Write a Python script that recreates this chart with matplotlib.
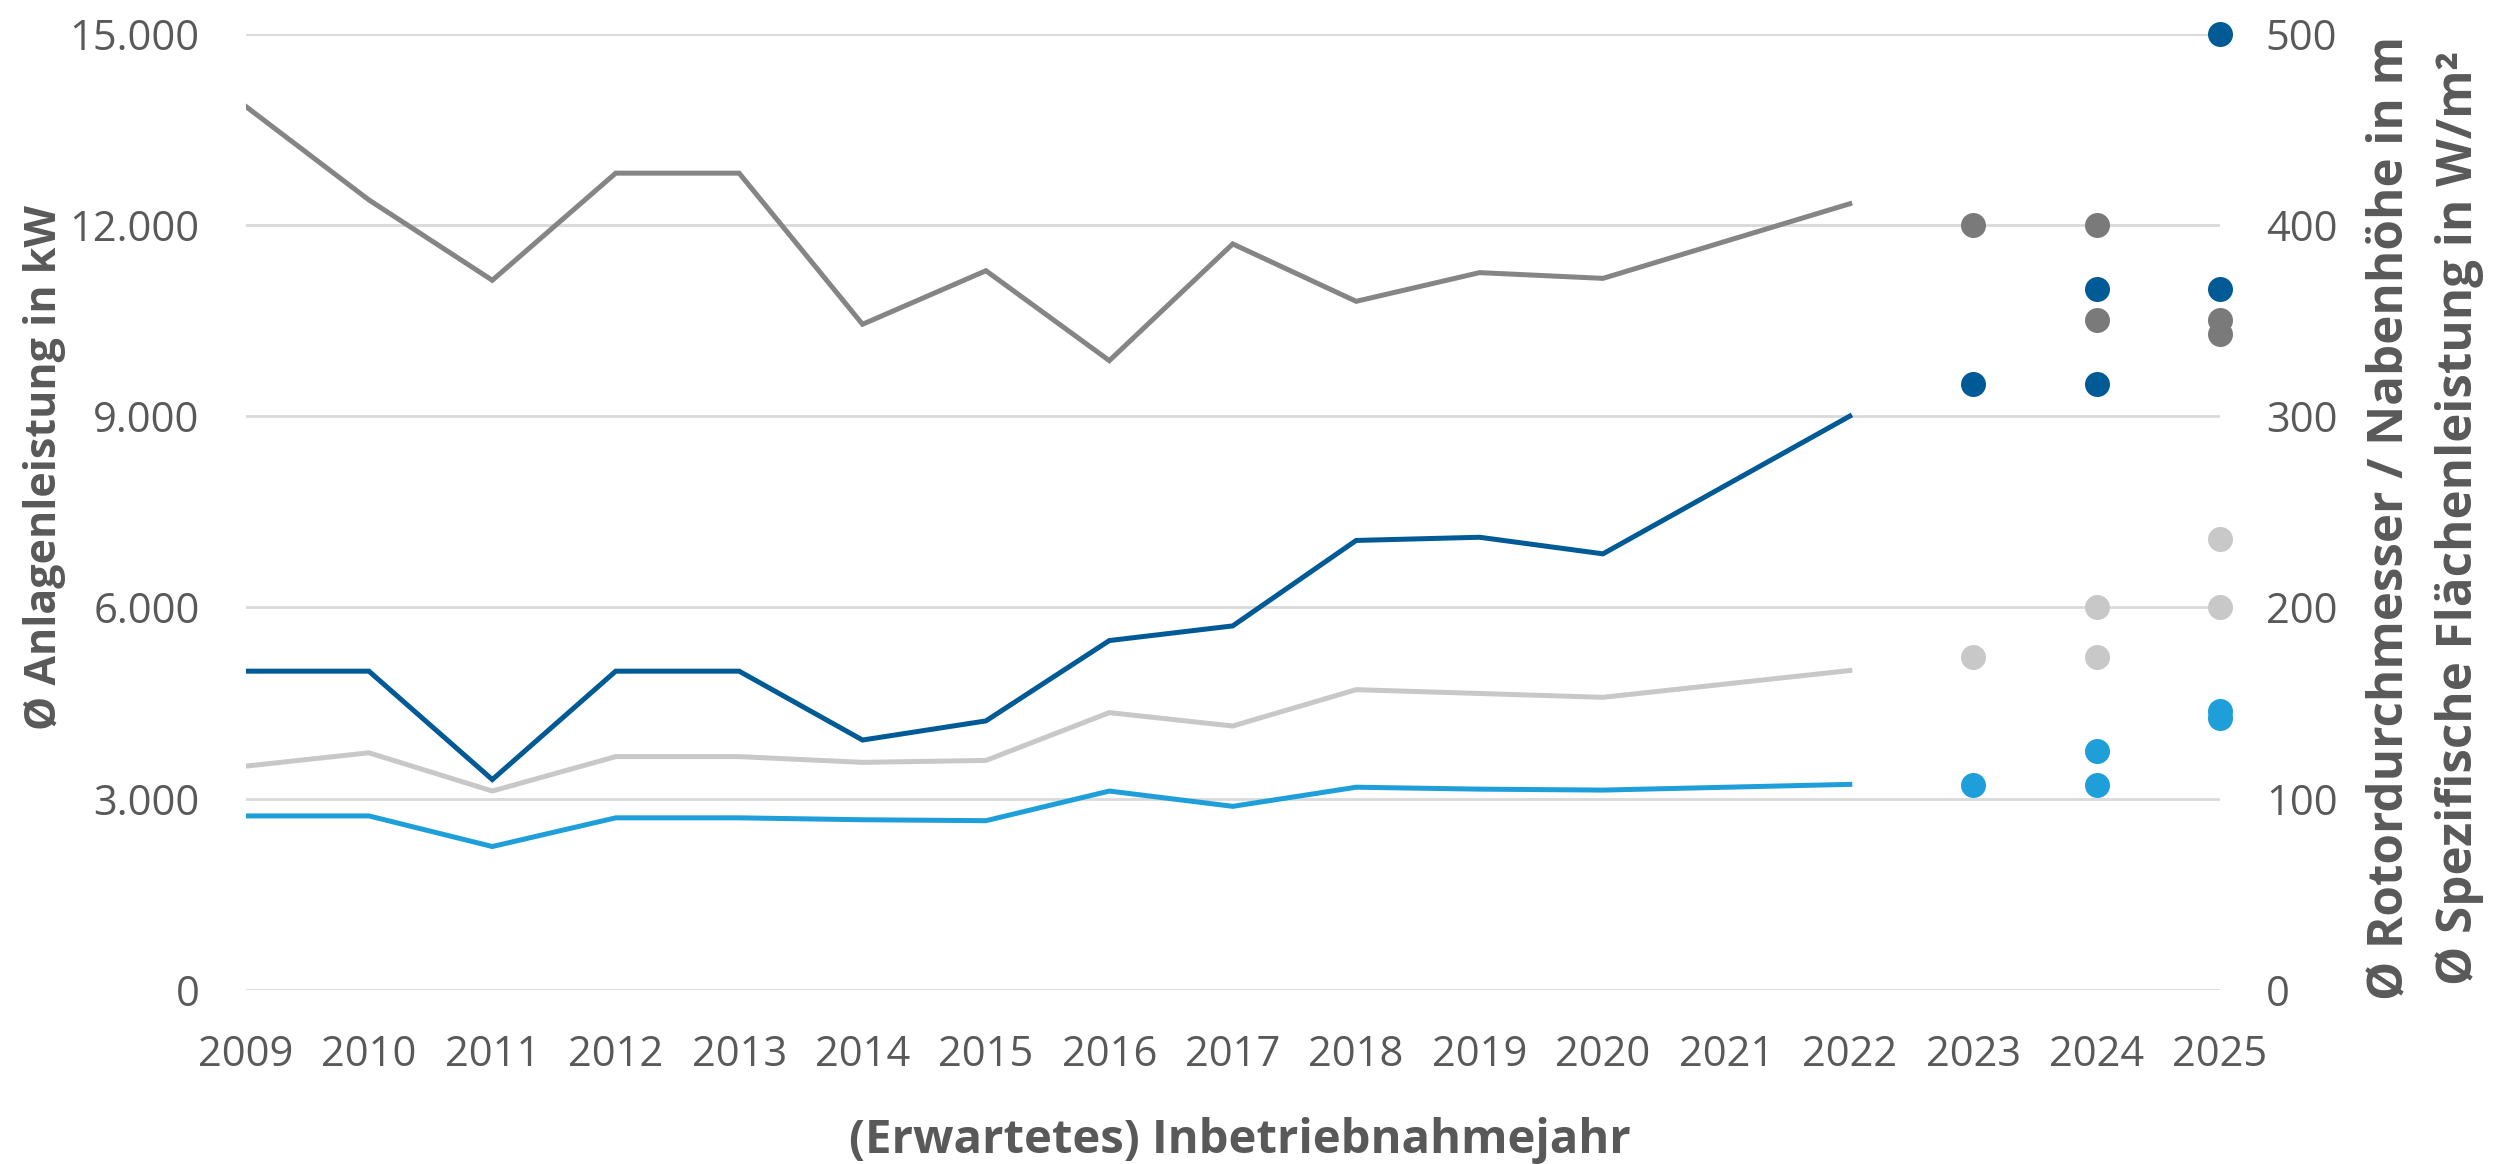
#!/usr/bin/env python3
"""
plot.py — average offshore turbine size by commissioning year (two y axes).
"""
import matplotlib
matplotlib.use("Agg")
import matplotlib.pyplot as plt
from matplotlib.ticker import FuncFormatter

# yearly averages (2021 has no value, the lines just bridge it)
years = [2009, 2010, 2011, 2012, 2013, 2014, 2015, 2016, 2017, 2018, 2019, 2020, 2022]
power_kw = [5000, 5000, 3300, 5000, 5000, 3920, 4220, 5480, 5710, 7050, 7100, 6840, 9000]
specific_wm2 = [462, 413, 371, 427, 427, 348, 376, 329, 390, 360, 375, 372, 411]
rotor_m = [117, 124, 104, 122, 122, 119, 120, 145, 138, 157, 155, 153, 167]
hub_m = [91, 91, 75, 90, 90, 89, 88.5, 104, 96, 106, 105, 104.5, 107.5]

# expected values for upcoming years (single projects, shown as dots)
dot_years = [2023, 2024, 2024, 2025, 2025]
dot_power_kw = [9500, 9500, 11000, 11000, 15000]
dot_specific_wm2 = [400, 400, 350, 350, 343]
dot_rotor_m = [174, 174, 200, 200, 236]
dot_hub_m = [107, 107, 125, 142, 146]

x_ticks = list(range(2009, 2026))
left_ticks = [0, 3000, 6000, 9000, 12000, 15000]
right_ticks = [0, 100, 200, 300, 400, 500]

DARK_BLUE = "#005a96"
GREY = "#858585"
GREY_DOT = "#7a7a7a"
LIGHT_GREY = "#c8c8c8"
LIGHT_BLUE = "#1e9fda"
TEXT = "#595959"
GRID = "#d9d9d9"

plt.rcParams["font.family"] = ["Open Sans", "DejaVu Sans"]

W, H = 2514, 1164
fig = plt.figure(figsize=(W / 100, H / 100), dpi=100)
l, r, t, b = 245.5, 2220, 33.5, 990
ax = fig.add_axes([l / W, 1 - b / H, (r - l) / W, (b - t) / H])
ax2 = ax.twinx()

lw = 3.6
ms = 18
ax2.plot(years, specific_wm2, color=GREY, lw=lw, solid_joinstyle="miter")
ax2.plot(years, rotor_m, color=LIGHT_GREY, lw=lw, solid_joinstyle="miter")
ax2.plot(years, hub_m, color=LIGHT_BLUE, lw=lw, solid_joinstyle="miter")
ax.plot(years, power_kw, color=DARK_BLUE, lw=lw, solid_joinstyle="miter", zorder=3)

ax2.plot(dot_years, dot_specific_wm2, "o", color=GREY_DOT, ms=ms, mew=0, clip_on=False)
ax2.plot(dot_years, dot_rotor_m, "o", color=LIGHT_GREY, ms=ms, mew=0, clip_on=False)
ax2.plot(dot_years, dot_hub_m, "o", color=LIGHT_BLUE, ms=ms, mew=0, clip_on=False)
# kW dots share the left scale: 15000 kW on the left equals 500 on the right
ax2.plot(dot_years, [v / 30 for v in dot_power_kw], "o", color=DARK_BLUE, ms=ms,
         mew=0, clip_on=False)

ax.set_xlim(2009, 2025)
ax.set_ylim(0, 15000)
ax2.set_ylim(0, 500)
ax.set_xticks(x_ticks)
ax.set_yticks(left_ticks)
ax2.set_yticks(right_ticks)
ax.yaxis.set_major_formatter(FuncFormatter(lambda v, _: f"{int(v):,}".replace(",", ".")))

ax.grid(axis="y", color=GRID, lw=2)
ax.grid(axis="x", visible=False)
for a in (ax, ax2):
    for s in a.spines.values():
        s.set_visible(False)
    a.tick_params(length=0, labelsize=30, labelcolor=TEXT)
ax.tick_params(axis="y", pad=33)
ax2.tick_params(axis="y", pad=33)
ax.tick_params(axis="x", pad=32)

title_kw = dict(rotation=90, ha="center", va="center", fontweight="bold", color=TEXT)
fig.text(45 / W, 1 - 468 / H, "Ø Anlagenleistung in kW", fontsize=31, **title_kw)
fig.text(2390 / W, 1 - 518 / H, "Ø Rotordurchmesser / Nabenhöhe in m", fontsize=35.5,
         **title_kw)
fig.text(2459 / W, 1 - 518 / H, "Ø Spezifische Flächenleistung in W/m²", fontsize=35.5,
         **title_kw)
fig.text(1240 / W, 1 - 1141 / H, "(Erwartetes) Inbetriebnahmejahr", ha="center",
         va="center", fontsize=34, fontweight="bold", color=TEXT)

fig.savefig("out.png", dpi=100)
